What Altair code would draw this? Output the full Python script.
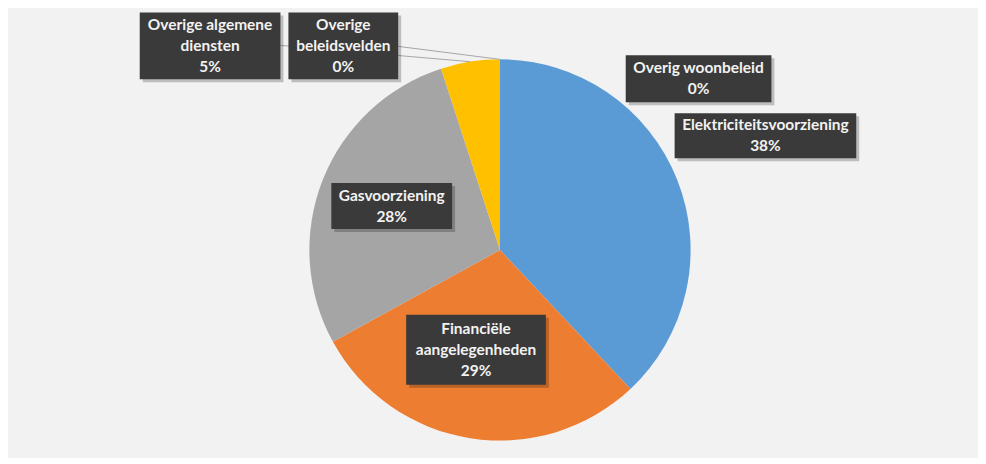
import math
import altair as alt
import pandas as pd

# ---- data ----
categories = ["Elektriciteitsvoorziening", "Financiële aangelegenheden", "Gasvoorziening",
              "Overige algemene diensten", "Overige beleidsvelden", "Overig woonbeleid"]
values = [38, 29, 28, 5, 0, 0]
label_lines = [["Elektriciteitsvoorziening"], ["Financiële", "aangelegenheden"], ["Gasvoorziening"],
               ["Overige algemene", "diensten"], ["Overige", "beleidsvelden"], ["Overig woonbeleid"]]
colors = ["#5b9bd5", "#ed7d31", "#a5a5a5", "#ffc000", "#264478", "#9e480e"]

# ---- layout (pixels in plot area) ----
W, H = 972, 450
CX, CY, R = 493, 242, 191
LH = 21
# label boxes: left, top, right, bottom
boxes = [(668, 105, 850, 150), (399, 307, 539, 377), (324, 175, 445, 221),
         (132, 4, 273, 71), (281, 4, 391, 71), (619, 47, 765, 94)]
# leader lines: which slice, start point at box edge
leaders = [(3, 273, 37), (4, 391, 38)]

order = list(range(len(categories)))
pie_df = pd.DataFrame({"cat": categories, "value": values, "order": order})

total = sum(values)
cum = 0
mids = []
for v in values:
    mids.append((cum + v / 2) / total * 2 * math.pi)
    cum += v

lab_rows = []
for i, (c, v) in enumerate(zip(categories, values)):
    l, t, r, b = boxes[i]
    lines_i = label_lines[i] + [f"{v}%"]
    lab_rows.append({"cat": c, "x0": l, "y0": t, "x1": r, "y1": b,
                     "sx0": l + 3, "sy0": t + 3, "sx1": r + 3, "sy1": b + 3,
                     "cx": (l + r) / 2,
                     "ty": (t + b) / 2 - (len(lines_i) - 1) * LH / 2,
                     "text": "\n".join(lines_i)})
lab_df = pd.DataFrame(lab_rows)

lead_rows = []
for idx, x0, y0 in leaders:
    a = mids[idx]
    lead_rows.append({"x0": x0, "y0": y0,
                      "x1": CX + R * math.sin(a), "y1": CY - R * math.cos(a)})
lead_df = pd.DataFrame(lead_rows)

pie = alt.Chart(pie_df).mark_arc(stroke=None).encode(
    theta=alt.Theta("value:Q", stack=True),
    order=alt.Order("order:Q"),
    color=alt.Color("cat:N", scale=alt.Scale(domain=categories, range=colors), legend=None),
    x=alt.value(CX), y=alt.value(CY),
    radius=alt.value(R),
)

lines = alt.Chart(lead_df).mark_rule(color="#a6a6a6", strokeWidth=1).encode(
    x=alt.X("x0:Q", scale=None), y=alt.Y("y0:Q", scale=None),
    x2="x1:Q", y2="y1:Q",
)

shadow = alt.Chart(lab_df).mark_rect(color="#000000", opacity=0.22).encode(
    x=alt.X("sx0:Q", scale=None), y=alt.Y("sy0:Q", scale=None),
    x2="sx1:Q", y2="sy1:Q",
)

box = alt.Chart(lab_df).mark_rect(color="#3a3a3a").encode(
    x=alt.X("x0:Q", scale=None), y=alt.Y("y0:Q", scale=None),
    x2="x1:Q", y2="y1:Q",
)

text = alt.Chart(lab_df).mark_text(
    color="#f2f2f2", font="Lato", fontWeight="bold", fontSize=15.5,
    lineBreak="\n", lineHeight=LH, align="center", baseline="middle",
).encode(
    x=alt.X("cx:Q", scale=None), y=alt.Y("ty:Q", scale=None), text="text:N",
)

chart = alt.layer(pie, lines, shadow, box, text).properties(
    width=W, height=H, padding=0, background="#f2f2f2",
    autosize=alt.AutoSizeParams(type="fit", contains="padding"),
).configure_view(stroke=None)

chart.save("out.html", embed_options={"renderer": "svg", "actions": False})
